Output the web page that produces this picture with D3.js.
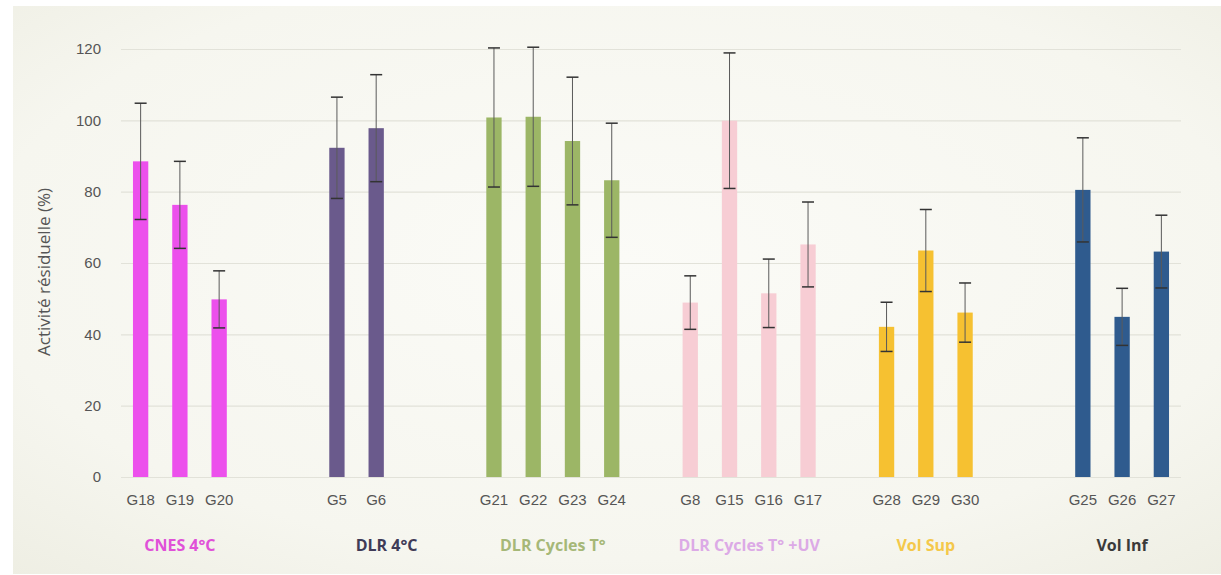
<!DOCTYPE html>
<html>
<head>
<meta charset="utf-8">
<script src="https://cdn.jsdelivr.net/npm/d3@7"></script>
<style>
  body { margin: 0; background: #fff; }
  svg { display: block; font-family: "Open Sans", sans-serif; }
</style>
</head>
<body>
<div class="main-area"></div>
<script>
// groups of samples, in the order they sit on the axis
const groups = ["CNES 4°C", "DLR 4°C", "DLR Cycles T°", "DLR Cycles T° +UV", "Vol Sup", "Vol Inf"];
const samples = [
  ["G18", "G19", "G20"],
  ["G5", "G6"],
  ["G21", "G22", "G23", "G24"],
  ["G8", "G15", "G16", "G17"],
  ["G28", "G29", "G30"],
  ["G25", "G26", "G27"]
];
const activity = [
  [88.5, 76.3, 49.8],
  [92.3, 97.8],
  [100.8, 101, 94.2, 83.2],
  [48.9, 99.9, 51.5, 65.2],
  [42.1, 63.5, 46.1],
  [80.5, 44.9, 63.2]
];
const errors = [
  [16.3, 12.2, 8],
  [14.2, 15],
  [19.5, 19.5, 17.9, 16],
  [7.5, 19, 9.6, 11.9],
  [6.9, 11.5, 8.3],
  [14.6, 8, 10.2]
];
// empty category slots after each group
const gapsAfter = [2, 2, 1, 1, 2, 0];
const yTicks = [0, 20, 40, 60, 80, 100, 120];

const barColors = ["#ec50ec", "#6a5a8c", "#9cb666", "#f7cdd4", "#f6c131", "#2f5b8e"];
const labelColors = ["#e050d8", "#3f3b57", "#a6b878", "#dcaae6", "#f4c84a", "#3a3a3a"];

const width = 1221, height = 575;

// flatten into bars + spacer slots
const slots = [];
const bars = [];
groups.forEach((g, gi) => {
  samples[gi].forEach((s, si) => {
    slots.push(s);
    bars.push({name: s, group: gi, value: activity[gi][si], err: errors[gi][si]});
  });
  for (let k = 0; k < gapsAfter[gi]; k++) slots.push(`gap-${gi}-${k}`);
});

const x = d3.scaleBand()
  .domain(slots)
  .range([121, 1181])
  .paddingInner(0.61)
  .paddingOuter(0.305);

const y = d3.scaleLinear()
  .domain([0, 120])
  .range([477, 49]);

const svg = d3.select('.main-area')
  .append('svg')
  .attr('width', width)
  .attr('height', height);

const grad = svg.append('defs').append('radialGradient')
  .attr('id', 'bg')
  .attr('cx', '50%').attr('cy', '45%').attr('r', '75%');
grad.append('stop').attr('offset', '0%').attr('stop-color', '#fbfbf7');
grad.append('stop').attr('offset', '70%').attr('stop-color', '#f6f6ef');
grad.append('stop').attr('offset', '100%').attr('stop-color', '#eeeee3');

svg.append('rect')
  .attr('x', 13).attr('y', 6)
  .attr('width', width - 13).attr('height', 568)
  .attr('fill', 'url(#bg)');

// y axis with gridlines
const yAxis = svg.append('g')
  .attr('transform', 'translate(121,0)')
  .call(d3.axisLeft(y).tickValues(yTicks).tickSize(-(1181 - 121)).tickPadding(20));
yAxis.select('.domain').remove();
yAxis.selectAll('.tick line').attr('stroke', '#e2e2d9').attr('stroke-width', 1.2);
yAxis.selectAll('.tick text')
  .attr('fill', '#555')
  .attr('font-size', 15);

svg.append('text')
  .attr('transform', `translate(50,272) rotate(-90)`)
  .attr('text-anchor', 'middle')
  .attr('fill', '#555')
  .attr('font-size', 17)
  .text('Activité résiduelle (%)');

// bars
svg.append('g')
  .selectAll('rect')
  .data(bars)
  .join('rect')
  .attr('x', d => x(d.name))
  .attr('width', x.bandwidth())
  .attr('y', d => y(d.value))
  .attr('height', d => y(0) - y(d.value))
  .attr('fill', d => barColors[d.group]);

// error bars
const eb = svg.append('g')
  .selectAll('g')
  .data(bars)
  .join('g')
  .attr('transform', d => `translate(${x(d.name) + x.bandwidth() / 2},0)`);
eb.append('line')
  .attr('y1', d => y(d.value + d.err))
  .attr('y2', d => y(d.value - d.err))
  .attr('stroke', '#5a5a5a')
  .attr('stroke-width', 1);
eb.append('line')
  .attr('x1', -6).attr('x2', 6)
  .attr('y1', d => y(d.value + d.err))
  .attr('y2', d => y(d.value + d.err))
  .attr('stroke', '#333')
  .attr('stroke-width', 1.5);
eb.append('line')
  .attr('x1', -6).attr('x2', 6)
  .attr('y1', d => y(d.value - d.err))
  .attr('y2', d => y(d.value - d.err))
  .attr('stroke', '#333')
  .attr('stroke-width', 1.5);

// category axis
const xAxis = svg.append('g')
  .attr('transform', 'translate(0,477)')
  .call(d3.axisBottom(x).tickSize(0).tickPadding(17));
xAxis.select('.domain').remove();
xAxis.selectAll('.tick').filter(d => d.startsWith('gap')).remove();
xAxis.selectAll('.tick text')
  .attr('fill', '#555')
  .attr('font-size', 15);

// group labels (the DLR 4°C box sits a bit right of its bars)
svg.append('g')
  .selectAll('text')
  .data(groups)
  .join('text')
  .attr('x', (g, i) => {
    const s = samples[i];
    return (x(s[0]) + x(s[s.length - 1]) + x.bandwidth()) / 2 + (i === 1 ? 30 : 0);
  })
  .attr('y', 551)
  .attr('text-anchor', 'middle')
  .attr('font-weight', 'bold')
  .attr('font-size', 16)
  .attr('fill', (g, i) => labelColors[i])
  .text(g => g);
</script>
</body>
</html>
